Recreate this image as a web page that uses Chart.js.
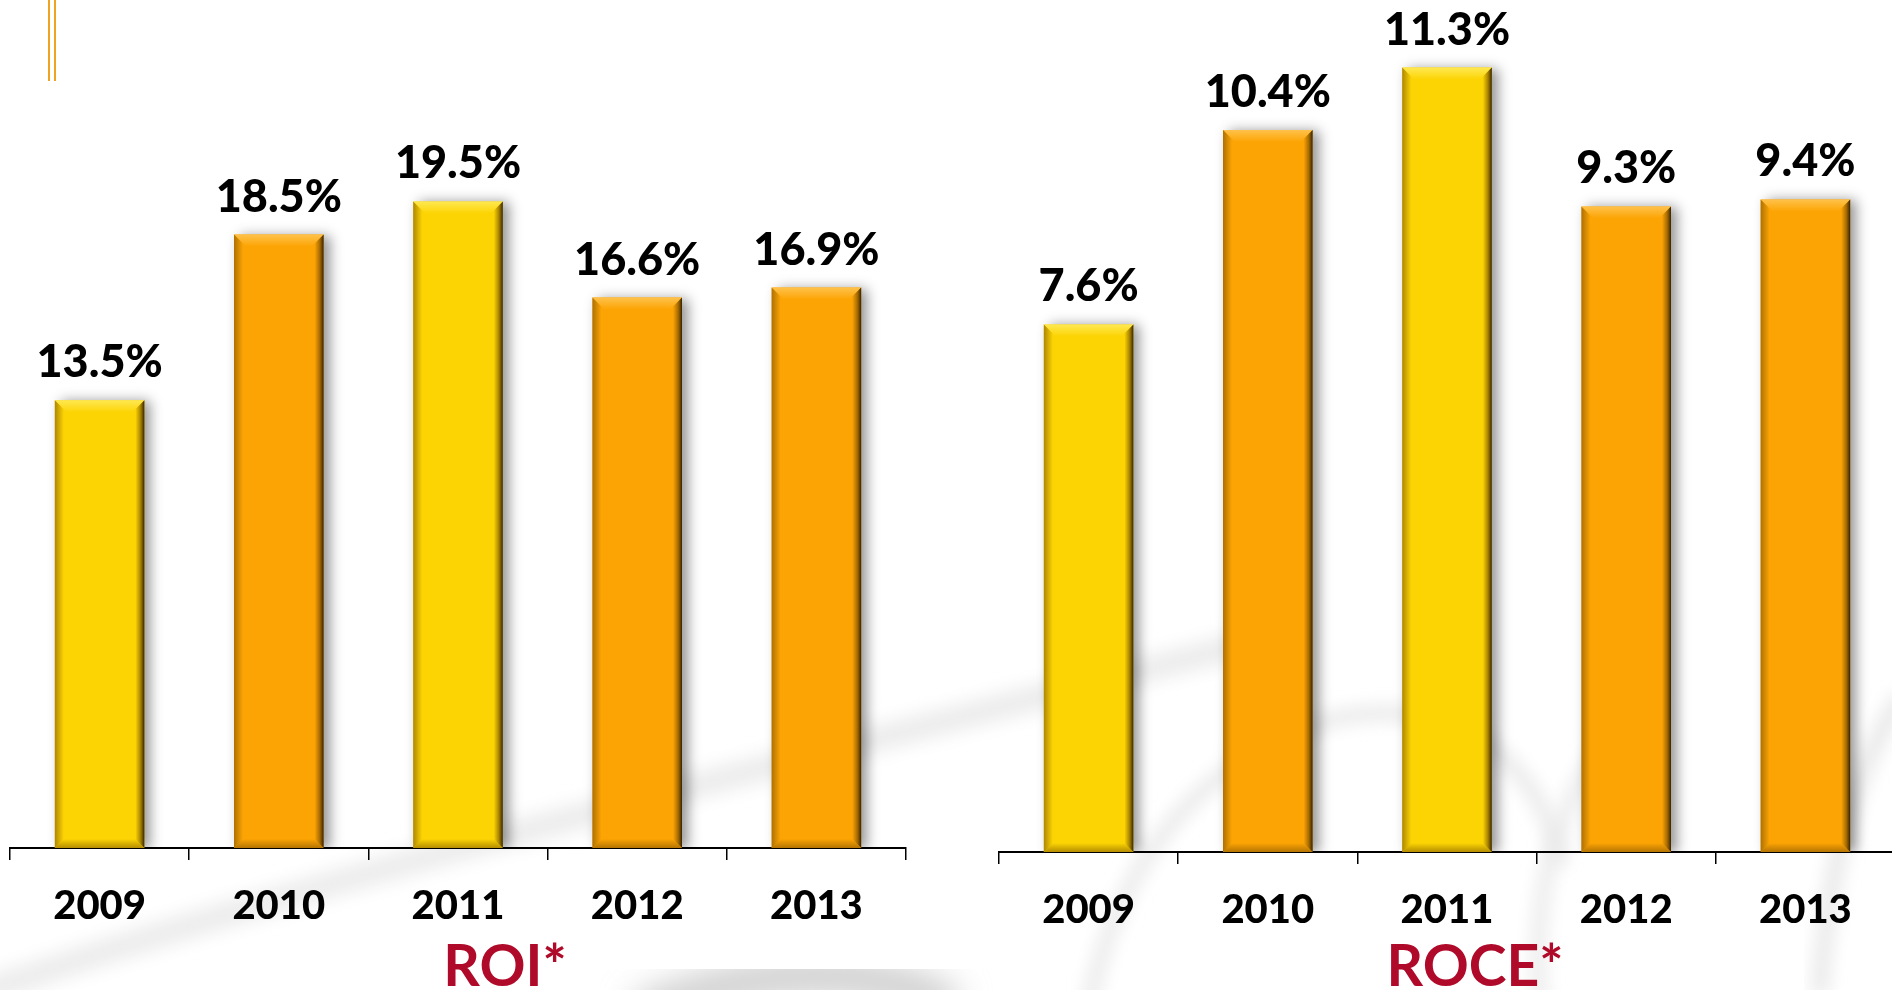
<!DOCTYPE html>
<html>
<head>
<meta charset="utf-8">
<script src="https://cdn.jsdelivr.net/npm/chart.js@4.4.1/dist/chart.umd.min.js"></script>
<style>
  html, body { margin: 0; padding: 0; background: #ffffff; }
  body { width: 1892px; height: 990px; position: relative; overflow: hidden; }
  #swoosh { position: absolute; left: 0; top: 0; width: 1892px; height: 990px; }
  .rule { position: absolute; top: 0; width: 2px; height: 81px; background: #EEA422; }
  .panel { position: absolute; top: 0; width: 920px; height: 990px; }
</style>
</head>
<body>
<svg id="swoosh" viewBox="0 0 1892 990" xmlns="http://www.w3.org/2000/svg">
  <defs>
    <filter id="soft" x="-20%" y="-20%" width="140%" height="140%"><feGaussianBlur stdDeviation="9"/></filter>
    <filter id="softer" x="-20%" y="-20%" width="140%" height="140%"><feGaussianBlur stdDeviation="16"/></filter>
  </defs>
  <g fill="none" stroke-linecap="round">
    <path d="M -40 1000 C 300 880, 800 760, 1260 640" stroke="#ececec" stroke-width="26" filter="url(#soft)"/>
    <path d="M 650 1010 C 760 965, 870 968, 940 1000" stroke="#cccccc" stroke-width="36" filter="url(#softer)"/>
    <path d="M 1090 1000 C 1120 860, 1200 760, 1330 720 C 1450 690, 1540 760, 1560 860" stroke="#e4e4e4" stroke-width="12" filter="url(#soft)"/>
    <path d="M 1540 1000 C 1530 870, 1570 760, 1650 700" stroke="#e6e6e6" stroke-width="12" filter="url(#soft)"/>
    <path d="M 1820 990 C 1830 850, 1860 760, 1900 700" stroke="#e4e4e4" stroke-width="14" filter="url(#soft)"/>
  </g>
</svg>
<div class="rule" style="left:48px"></div>
<div class="rule" style="left:54px"></div>
<div class="panel" style="left:0px"><canvas id="roi"></canvas></div>
<div class="panel" style="left:989px"><canvas id="roce"></canvas></div>
<script>
// Years on the category axis
const years = ['2009', '2010', '2011', '2012', '2013'];
// Return on investment, %
const roiValues = [13.5, 18.5, 19.5, 16.6, 16.9];
// Return on capital employed, %
const roceValues = [7.6, 10.4, 11.3, 9.3, 9.4];
// Bar fill per year
const barColors = ['#FCD403', '#FCA404', '#FCD403', '#FCA404', '#FCA404'];
const bevelColors = ['#FFE852', '#FFC24A', '#FFE852', '#FFC24A', '#FFC24A'];

const FONT = 'Lato, "Open Sans", "Liberation Sans", sans-serif';

// Soft drop shadow behind the bars
const barShadow = {
  id: 'barShadow',
  beforeDatasetsDraw(chart) {
    const ctx = chart.ctx;
    ctx.save();
    ctx.shadowColor = 'rgba(0,0,0,0.42)';
    ctx.shadowBlur = 12;
    ctx.shadowOffsetX = 6;
    ctx.shadowOffsetY = 1;
  },
  afterDatasetsDraw(chart) {
    chart.ctx.restore();
  }
};

// Bevelled edges on every bar plus the value label above it
const bevelAndLabels = {
  id: 'bevelAndLabels',
  afterDatasetsDraw(chart, args, opts) {
    const ctx = chart.ctx;
    const meta = chart.getDatasetMeta(0);
    const values = chart.data.datasets[0].data;
    meta.data.forEach((bar, i) => {
      const p = bar.getProps(['x', 'y', 'base', 'width'], true);
      const l = p.x - p.width / 2, r = p.x + p.width / 2, t = p.y, b = p.base;
      const bv = 12, side = 9;
      ctx.save();
      // top bevel
      const gTop = ctx.createLinearGradient(0, t, 0, t + bv);
      gTop.addColorStop(0, bevelColors[i]);
      gTop.addColorStop(1, barColors[i]);
      ctx.fillStyle = gTop;
      ctx.beginPath();
      ctx.moveTo(l, t); ctx.lineTo(r, t); ctx.lineTo(r - bv, t + bv); ctx.lineTo(l + bv, t + bv); ctx.closePath();
      ctx.fill();
      // right dark edge
      const gR = ctx.createLinearGradient(r - side, 0, r, 0);
      gR.addColorStop(0, 'rgba(90,55,0,0)');
      gR.addColorStop(0.55, 'rgba(90,55,0,0.5)');
      gR.addColorStop(1, 'rgba(40,25,0,0.95)');
      ctx.fillStyle = gR;
      ctx.beginPath();
      ctx.moveTo(r, t); ctx.lineTo(r, b); ctx.lineTo(r - side, b - side); ctx.lineTo(r - side, t + side); ctx.closePath();
      ctx.fill();
      // left edge, slightly shaded
      const gL = ctx.createLinearGradient(l, 0, l + side, 0);
      gL.addColorStop(0, 'rgba(110,70,0,0.55)');
      gL.addColorStop(1, 'rgba(110,70,0,0)');
      ctx.fillStyle = gL;
      ctx.beginPath();
      ctx.moveTo(l, t); ctx.lineTo(l + side, t + side); ctx.lineTo(l + side, b - side); ctx.lineTo(l, b); ctx.closePath();
      ctx.fill();
      // bottom edge
      const gB = ctx.createLinearGradient(0, b - side, 0, b);
      gB.addColorStop(0, 'rgba(110,70,0,0)');
      gB.addColorStop(1, 'rgba(110,70,0,0.5)');
      ctx.fillStyle = gB;
      ctx.beginPath();
      ctx.moveTo(l, b); ctx.lineTo(r, b); ctx.lineTo(r - side, b - side); ctx.lineTo(l + side, b - side); ctx.closePath();
      ctx.fill();
      // value label
      ctx.fillStyle = '#000';
      ctx.font = '900 45px ' + FONT;
      ctx.textAlign = 'center';
      ctx.textBaseline = 'alphabetic';
      ctx.fillText(values[i].toFixed(1) + '%', p.x, t - 23);
      ctx.restore();
    });
    // chart title under the axis
    const area = chart.chartArea;
    ctx.save();
    ctx.fillStyle = '#B00A2A';
    ctx.font = 'bold 57px ' + FONT;
    ctx.textAlign = 'center';
    ctx.textBaseline = 'middle';
    ctx.fillText(opts.text, (area.left + area.right) / 2 + opts.shift, opts.y);
    ctx.restore();
  }
};

function makeChart(id, values, yMax, axisHeight, title, titleShift) {
  return new Chart(document.getElementById(id), {
    type: 'bar',
    data: {
      labels: years,
      datasets: [{
        data: values,
        backgroundColor: barColors,
        borderWidth: 0,
        categoryPercentage: 1.0,
        barPercentage: 0.5
      }]
    },
    options: {
      responsive: true,
      maintainAspectRatio: false,
      animation: false,
      layout: { padding: { left: 10, right: 14, top: 19, bottom: 0 } },
      plugins: {
        legend: { display: false },
        tooltip: { enabled: false },
        bevelAndLabels: { text: title, shift: titleShift, y: 968 }
      },
      scales: {
        x: {
          offset: true,
          grid: { display: true, drawOnChartArea: false, drawTicks: true, tickLength: 12, color: '#000', lineWidth: 1.5, offset: true },
          border: { display: true, color: '#000', width: 2 },
          ticks: { color: '#000', font: { family: FONT, size: 40, weight: '900' }, padding: 22, maxRotation: 0 },
          afterFit(scale) { scale.height = axisHeight; }
        },
        y: { display: false, min: 0, max: yMax }
      }
    },
    plugins: [barShadow, bevelAndLabels]
  });
}

makeChart('roi', roiValues, 25, 142, 'ROI*', 47);
makeChart('roce', roceValues, 12, 138, 'ROCE*', 28);
</script>
</body>
</html>
